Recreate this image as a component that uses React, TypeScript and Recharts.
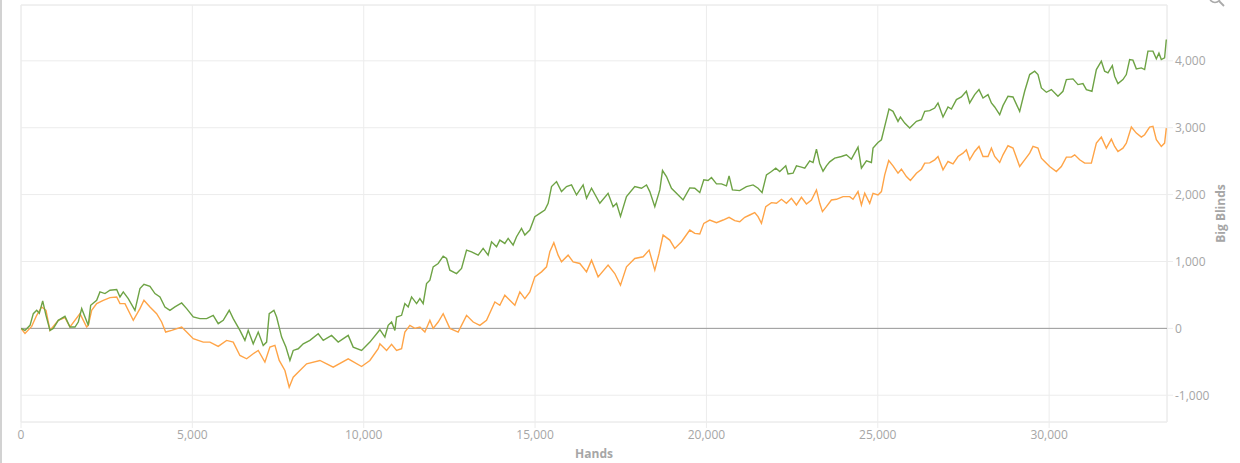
import React from "react";
import {
  CartesianGrid,
  Line,
  LineChart,
  ReferenceArea,
  ReferenceLine,
  XAxis,
  YAxis,
} from "recharts";

// [hands, big blinds]
const GREEN_POINTS: [number, number][] = [
  [0, 0], [117, -30], [263, 45], [359, 220], [458, 270], [534, 225], [633, 410], [729, 195],
  [846, -30], [942, 0], [1088, 120], [1283, 180], [1429, 20], [1575, 20], [1671, 95], [1771, 295],
  [1867, 170], [1963, 45], [2033, 345], [2208, 420], [2304, 545], [2450, 520], [2596, 570], [2792, 580],
  [2888, 470], [2984, 545], [3130, 445], [3325, 270], [3471, 595], [3588, 660], [3763, 630], [3909, 520],
  [4055, 470], [4200, 320], [4346, 270], [4492, 320], [4688, 380], [4834, 295], [5026, 170], [5221, 145],
  [5417, 145], [5609, 195], [5755, 70], [5901, 120], [6076, 270], [6193, 145], [6388, -30], [6534, -180],
  [6630, -30], [6776, -230], [6922, -55], [7068, -255], [7167, -205], [7243, 220], [7380, 270], [7459, 170],
  [7605, -130], [7730, -280], [7847, -480], [7943, -330], [8089, -305], [8235, -230], [8430, -180], [8673, -80],
  [8819, -180], [9063, -105], [9256, -205], [9548, -105], [9693, -280], [9938, -330], [10180, -205], [10472, -20],
  [10618, -130], [10714, 45], [10813, 95], [10910, -30], [10959, 170], [11105, 195], [11201, 370], [11298, 320],
  [11397, 470], [11543, 370], [11639, 445], [11735, 370], [11834, 670], [11931, 720], [12027, 920], [12173, 970],
  [12319, 1080], [12418, 1045], [12514, 870], [12709, 820], [12855, 895], [13001, 1170], [13147, 1145], [13340, 1095],
  [13485, 1195], [13631, 1095], [13730, 1295], [13876, 1220], [13972, 1320], [14118, 1270], [14215, 1345], [14360, 1245],
  [14460, 1370], [14605, 1495], [14702, 1395], [14848, 1470], [14993, 1670], [15139, 1720], [15285, 1770], [15382, 1870],
  [15481, 2120], [15627, 2195], [15772, 2045], [15918, 2120], [16064, 2145], [16210, 1995], [16403, 2145], [16502, 1945],
  [16648, 2095], [16890, 1870], [17131, 2020], [17277, 1820], [17377, 1870], [17493, 1675], [17668, 1970], [17910, 2120],
  [18106, 2095], [18252, 2145], [18348, 2045], [18494, 1820], [18640, 2070], [18719, 2360], [18835, 2270], [18981, 2095],
  [19127, 2020], [19319, 1920], [19515, 2100], [19661, 2095], [19807, 2030], [19924, 2220], [20049, 2210], [20148, 2255],
  [20294, 2160], [20439, 2160], [20585, 2130], [20661, 2280], [20760, 2070], [20973, 2060], [21168, 2120], [21361, 2145],
  [21507, 2095], [21624, 2030], [21752, 2295], [21898, 2345], [22024, 2395], [22140, 2345], [22315, 2430], [22382, 2310],
  [22528, 2320], [22627, 2430], [22773, 2410], [22870, 2395], [23015, 2505], [23112, 2480], [23211, 2680], [23305, 2465],
  [23403, 2350], [23502, 2430], [23598, 2490], [23744, 2545], [23940, 2570], [24085, 2595], [24231, 2530], [24424, 2710],
  [24523, 2395], [24669, 2505], [24815, 2480], [24862, 2695], [25007, 2780], [25107, 2820], [25203, 3020], [25328, 3280],
  [25445, 3245], [25591, 3095], [25661, 3160], [25786, 3070], [25932, 2995], [26128, 3095], [26274, 3120], [26370, 3245],
  [26516, 3255], [26662, 3295], [26758, 3370], [26904, 3160], [27050, 3310], [27149, 3280], [27295, 3420], [27440, 3460],
  [27586, 3545], [27682, 3370], [27828, 3495], [27954, 3570], [28071, 3445], [28217, 3495], [28316, 3370], [28412, 3310],
  [28558, 3195], [28654, 3330], [28800, 3470], [28946, 3460], [29141, 3245], [29287, 3545], [29433, 3795], [29579, 3845],
  [29675, 3795], [29774, 3595], [29920, 3530], [30066, 3570], [30258, 3470], [30404, 3545], [30504, 3720], [30696, 3730],
  [30842, 3645], [30988, 3660], [31087, 3570], [31250, 3545], [31379, 3870], [31524, 3995], [31620, 3845], [31717, 3820],
  [31845, 3930], [31912, 3770], [32009, 3660], [32154, 3720], [32253, 3795], [32350, 4020], [32446, 4010], [32545, 3880],
  [32691, 3895], [32787, 3870], [32884, 4145], [33030, 4145], [33129, 4030], [33205, 4115], [33274, 4020], [33370, 4045],
  [33420, 4320],
];

const ORANGE_POINTS: [number, number][] = [
  [0, 0], [117, -75], [312, 30], [458, 195], [604, 320], [729, 270], [846, -30], [1088, 120],
  [1283, 160], [1429, 20], [1721, 220], [1916, 20], [1963, 45], [2062, 270], [2208, 370], [2401, 420],
  [2596, 460], [2792, 470], [2888, 370], [3034, 370], [3276, 120], [3471, 295], [3588, 420], [3763, 320],
  [3958, 220], [4104, 95], [4221, -55], [4396, -30], [4688, 20], [4834, -55], [5026, -155], [5318, -205],
  [5513, -205], [5755, -270], [6000, -180], [6193, -205], [6388, -405], [6584, -455], [6776, -380], [6922, -330],
  [7117, -505], [7263, -280], [7409, -255], [7535, -480], [7701, -630], [7826, -880], [7943, -730], [8138, -630],
  [8334, -530], [8722, -480], [9110, -580], [9548, -455], [9938, -570], [10180, -480], [10423, -305], [10472, -230],
  [10668, -330], [10813, -240], [10959, -330], [11105, -305], [11201, -55], [11347, 45], [11493, 0], [11639, 20],
  [11785, -55], [11931, 120], [12027, 0], [12173, 95], [12319, 220], [12514, 0], [12756, -55], [13001, 195],
  [13195, 95], [13389, 45], [13584, 120], [13827, 395], [13972, 345], [14118, 495], [14264, 420], [14410, 345],
  [14556, 545], [14702, 445], [14848, 545], [14993, 770], [15189, 845], [15335, 920], [15431, 1145], [15548, 1280],
  [15673, 1095], [15772, 995], [15965, 1095], [16111, 995], [16306, 970], [16502, 845], [16648, 1020], [16840, 770],
  [17131, 945], [17327, 820], [17493, 645], [17668, 920], [17910, 1045], [18153, 1070], [18328, 1170], [18494, 870],
  [18619, 1120], [18736, 1395], [18931, 1320], [19077, 1195], [19273, 1295], [19515, 1470], [19661, 1420], [19807, 1410],
  [19924, 1570], [20098, 1620], [20294, 1580], [20488, 1620], [20661, 1660], [20827, 1610], [20973, 1595], [21119, 1660],
  [21264, 1695], [21410, 1730], [21507, 1670], [21606, 1570], [21732, 1820], [21898, 1880], [22044, 1870], [22190, 1930],
  [22335, 1870], [22481, 1945], [22627, 1845], [22773, 1960], [22919, 1860], [23065, 1920], [23211, 2070], [23307, 1870],
  [23386, 1745], [23502, 1820], [23648, 1920], [23794, 1930], [23987, 1970], [24182, 1970], [24278, 1930], [24424, 2045],
  [24523, 1845], [24620, 2020], [24765, 1870], [24862, 2020], [25007, 1995], [25107, 2045], [25203, 2295], [25320, 2510],
  [25445, 2430], [25591, 2320], [25690, 2380], [25836, 2270], [25953, 2210], [26128, 2320], [26274, 2380], [26370, 2470],
  [26516, 2475], [26662, 2520], [26758, 2570], [26904, 2370], [27050, 2495], [27196, 2460], [27342, 2570], [27488, 2620],
  [27586, 2670], [27682, 2520], [27828, 2645], [27954, 2720], [28071, 2570], [28217, 2570], [28316, 2695], [28412, 2570],
  [28558, 2480], [28654, 2595], [28800, 2730], [28946, 2695], [29141, 2420], [29287, 2520], [29433, 2620], [29530, 2720],
  [29675, 2695], [29774, 2545], [29870, 2495], [30016, 2420], [30211, 2345], [30357, 2420], [30504, 2560], [30650, 2560],
  [30746, 2595], [30892, 2520], [31038, 2470], [31233, 2470], [31379, 2770], [31524, 2860], [31670, 2695], [31816, 2830],
  [31912, 2720], [32009, 2645], [32154, 2695], [32253, 2770], [32400, 3010], [32545, 2920], [32691, 2860], [32787, 2895],
  [32933, 3010], [33030, 3020], [33129, 2820], [33274, 2720], [33370, 2770], [33420, 2995],
];

const X_TICKS = [0, 5000, 10000, 15000, 20000, 25000, 30000];
const Y_TICKS = [-1000, 0, 1000, 2000, 3000, 4000];
const X_DOMAIN: [number, number] = [0, 33440];
const Y_DOMAIN: [number, number] = [-1400, 4835];

const toRows = (pts: [number, number][]) => pts.map(([hand, bb]) => ({ hand, bb }));
const greenData = toRows(GREEN_POINTS);
const orangeData = toRows(ORANGE_POINTS);

const fmt = (v: number) => v.toLocaleString("en-US");

const FONT = "'Segoe UI', 'Open Sans', 'Noto Sans', sans-serif";
const GRID = "#ececec";
const TICK_TEXT = { fill: "#a6a6a6", fontSize: 12, fontFamily: FONT };

export default function App() {
  return (
    <div
      style={{
        position: "absolute",
        left: 0,
        top: 0,
        width: 1240,
        height: 463,
        overflow: "hidden",
        background: "#fff",
      }}
    >
      <LineChart
        width={1240}
        height={472}
        margin={{ top: 5, right: 0, left: 21, bottom: 0 }}
      >
        <CartesianGrid stroke={GRID} />
        <ReferenceArea
          x1={X_DOMAIN[0]}
          x2={X_DOMAIN[1]}
          y1={Y_DOMAIN[0]}
          y2={Y_DOMAIN[1]}
          fill="none"
          stroke={GRID}
          strokeWidth={1}
        />
        <XAxis
          dataKey="hand"
          type="number"
          domain={X_DOMAIN}
          ticks={X_TICKS}
          allowDataOverflow
          tickFormatter={fmt}
          tick={TICK_TEXT}
          tickLine={{ stroke: GRID }}
          axisLine={false}
          height={50}
          label={{
            value: "Hands",
            position: "insideBottom",
            offset: 14,
            fill: "#a6a6a6",
            fontSize: 12,
            fontWeight: 700,
            fontFamily: FONT,
          }}
        />
        <YAxis
          orientation="right"
          type="number"
          domain={Y_DOMAIN}
          ticks={Y_TICKS}
          allowDataOverflow
          tickFormatter={fmt}
          tick={TICK_TEXT}
          tickLine={{ stroke: GRID }}
          axisLine={false}
          width={73}
          label={{
            value: "Big Blinds",
            angle: -90,
            position: "center",
            dx: 17,
            fill: "#a6a6a6",
            fontSize: 12,
            fontWeight: 700,
            fontFamily: FONT,
          }}
        />
        <ReferenceLine y={0} stroke="#9a9a9a" strokeWidth={1} />
        <Line
          data={orangeData}
          dataKey="bb"
          type="linear"
          stroke="#ffa447"
          strokeWidth={1.4}
          dot={false}
          isAnimationActive={false}
        />
        <Line
          data={greenData}
          dataKey="bb"
          type="linear"
          stroke="#6ea345"
          strokeWidth={1.4}
          dot={false}
          isAnimationActive={false}
        />
      </LineChart>
      <div
        style={{
          position: "absolute",
          left: 0,
          top: 0,
          width: 2,
          height: 463,
          background: "#d2d2d2",
        }}
      />
      <svg
        width={30}
        height={12}
        style={{ position: "absolute", left: 1205, top: 0 }}
      >
        <circle cx={10} cy={-3} r={5.5} fill="none" stroke="#aaa" strokeWidth={1.5} />
        <line x1={14} y1={1} x2={19} y2={6} stroke="#aaa" strokeWidth={1.8} />
      </svg>
    </div>
  );
}
